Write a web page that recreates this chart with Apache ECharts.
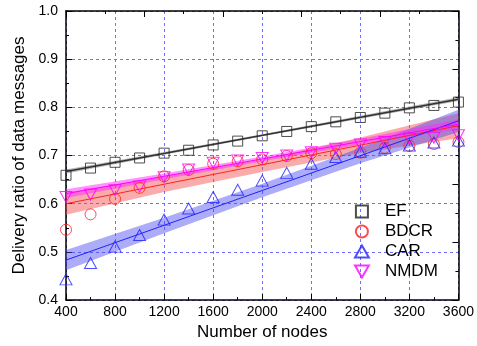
<!DOCTYPE html>
<html><head><meta charset="utf-8">
<script src="https://cdn.jsdelivr.net/npm/echarts@6/dist/echarts.min.js"></script>
<style>html,body{margin:0;padding:0;background:#fff}#c{width:477px;height:346px}</style>
</head><body><div id="c"></div>
<script>
// ---- data ----
var nodes = [400,600,800,1000,1200,1400,1600,1800,2000,2200,2400,2600,2800,3000,3200,3400,3600];
var efValues   = [0.659,0.674,0.686,0.695,0.705,0.711,0.722,0.730,0.741,0.750,0.760,0.770,0.779,0.788,0.799,0.804,0.811];
var bdcrValues = [0.546,0.578,0.610,0.633,0.657,0.670,0.683,0.688,0.692,0.699,0.705,0.703,0.706,0.716,0.720,0.724,0.728];
var carValues  = [0.443,0.477,0.511,0.535,0.567,0.590,0.614,0.629,0.648,0.664,0.683,0.697,0.708,0.715,0.721,0.727,0.731];
var nmdmValues = [0.614,0.619,0.628,0.636,0.655,0.671,0.685,0.690,0.695,0.700,0.707,0.714,0.723,0.728,0.735,0.737,0.742];

var fitX = [400, 3600];
var efFit   = [0.667, 0.817];
var bdcrFit = [0.600, 0.762];
var carFit  = [0.483, 0.772];
var nmdmFit = [0.621, 0.765];

var bandX = [400, 1200, 2000, 2800, 3600];
var efUpper   = [0.671, 0.7075, 0.744, 0.7825, 0.821];
var efLower   = [0.663, 0.7015, 0.740, 0.7765, 0.813];
var bdcrUpper = [0.623, 0.6565, 0.692, 0.7375, 0.788];
var bdcrLower = [0.577, 0.6245, 0.666, 0.7055, 0.736];
var carUpper  = [0.504, 0.571, 0.6415, 0.716, 0.795];
var carLower  = [0.462, 0.539, 0.6135, 0.684, 0.749];
var nmdmUpper = [0.630, 0.663, 0.698, 0.735, 0.775];
var nmdmLower = [0.612, 0.651, 0.688, 0.723, 0.755];

var seriesNames = ['EF','BDCR','CAR','NMDM'];
var xTickLabels = ['400','800','1200','1600','2000','2400','2800','3200','3600'];
// ---- chart ----
var FONT = '"Liberation Sans", Arial, sans-serif';
function zip(xs, ys){ return xs.map(function(x,i){ return [x, ys[i]]; }); }
function bandSeries(upper, lower, color, z){
  return {
    type: 'custom', z: z, silent: true, clip: true,
    data: [[bandX[0], lower[0]]],
    renderItem: function(params, api){
      var pts = [];
      for (var i=0;i<bandX.length;i++) pts.push(api.coord([bandX[i], upper[i]]));
      for (var j=bandX.length-1;j>=0;j--) pts.push(api.coord([bandX[j], lower[j]]));
      return { type:'polygon', shape:{points:pts}, style:{fill: color, stroke:null} };
    }
  };
}
function fitSeries(vals, color, w){
  return { type:'line', data: zip(fitX, vals), symbol:'none', silent:true, z:3,
           lineStyle:{color:color, width:w} };
}
function scatterSeries(name, vals, symbol, size, color){
  return { name:name, type:'scatter', data: zip(nodes, vals), symbol:symbol, symbolSize:size, z:5,
           itemStyle:{color:'rgba(255,255,255,0)', borderColor:color, borderWidth:1} };
}
var SQUARE = 'path://M0,0 L10,0 L10,10 L0,10 Z';
var DOWN = 'path://M0,0 L12,0 L6,10.4 Z';
var UP = 'path://M6,0 L12,10.4 L0,10.4 Z';
var gridLine = {show:true, lineStyle:{color:'#6f6fff', type:[3,3], width:1}};
var chart = echarts.init(document.getElementById('c'), null, {renderer:'canvas'});
chart.setOption({
  animation:false,
  textStyle:{fontFamily:FONT},
  grid:{left:66, right:18, top:11, bottom:45.5},
  legend:{
    data: seriesNames, orient:'vertical', left:349, top:198, itemWidth:30, itemHeight:12, itemGap:3,
    textStyle:{fontFamily:FONT, fontSize:17, color:'#000', padding:[0,0,0,3]}
  },
  xAxis:[{
    type:'value', min:400, max:3600, interval:400, position:'bottom',
    name:'Number of nodes', nameLocation:'middle', nameGap:21,
    nameTextStyle:{fontFamily:FONT, fontSize:17, color:'#000'},
    axisLine:{show:true, onZero:false, lineStyle:{color:'#000', width:1.5}},
    axisTick:{show:true, inside:true, length:6, lineStyle:{color:'#000'}},
    minorTick:{show:true, splitNumber:2, length:3, lineStyle:{color:'#000'}},
    axisLabel:{fontFamily:FONT, fontSize:14, color:'#000', margin:5,
      formatter:function(v){ var s=String(Math.round(v)); return xTickLabels.indexOf(s)>=0?s:''; }},
    splitLine:gridLine
  },{
    type:'value', min:400, max:3600, interval:640, position:'top',
    axisLine:{show:true, onZero:false, lineStyle:{color:'#000', width:1.5}},
    axisTick:{show:true, inside:true, length:6, lineStyle:{color:'#000'}},
    minorTick:{show:true, splitNumber:2, length:3, lineStyle:{color:'#000'}},
    axisLabel:{show:false}, splitLine:{show:false}
  }],
  yAxis:[{
    type:'value', min:0.4, max:1.0, interval:0.1, position:'left',
    name:'Delivery ratio of data messages', nameLocation:'middle', nameGap:37, nameRotate:90,
    nameTextStyle:{fontFamily:FONT, fontSize:17, color:'#000'},
    axisLine:{show:true, onZero:false, lineStyle:{color:'#000', width:1.5}},
    axisTick:{show:true, inside:true, length:6, lineStyle:{color:'#000'}},
    minorTick:{show:true, splitNumber:2, length:3, lineStyle:{color:'#000'}},
    axisLabel:{fontFamily:FONT, fontSize:14, color:'#000', margin:8,
      formatter:function(v){ return v.toFixed(1); }},
    splitLine:gridLine
  },{
    type:'value', min:0.4, max:1.0, interval:0.12, position:'right',
    axisLine:{show:true, onZero:false, lineStyle:{color:'#000', width:1.5}},
    axisTick:{show:true, inside:true, length:6, lineStyle:{color:'#000'}},
    minorTick:{show:true, splitNumber:2, length:3, lineStyle:{color:'#000'}},
    axisLabel:{show:false}, splitLine:{show:false}
  }],
  series:[
    bandSeries(efUpper, efLower, 'rgba(110,110,110,0.5)', 1),
    bandSeries(bdcrUpper, bdcrLower, 'rgba(245,70,70,0.45)', 1),
    bandSeries(carUpper, carLower, 'rgba(70,70,240,0.45)', 1),
    bandSeries(nmdmUpper, nmdmLower, 'rgba(255,40,255,0.5)', 1),
    fitSeries(efFit, '#333', 1.5),
    fitSeries(bdcrFit, '#ff2020', 1),
    fitSeries(carFit, '#2020ff', 1),
    fitSeries(nmdmFit, '#ff00ff', 1),
    scatterSeries('EF', efValues, SQUARE, 10, '#222'),
    scatterSeries('BDCR', bdcrValues, 'circle', 11, '#ff2020'),
    scatterSeries('CAR', carValues, UP, [12,11], '#2020ff'),
    scatterSeries('NMDM', nmdmValues, DOWN, [12,11], '#ff00ff')
  ]
});
</script></body></html>
